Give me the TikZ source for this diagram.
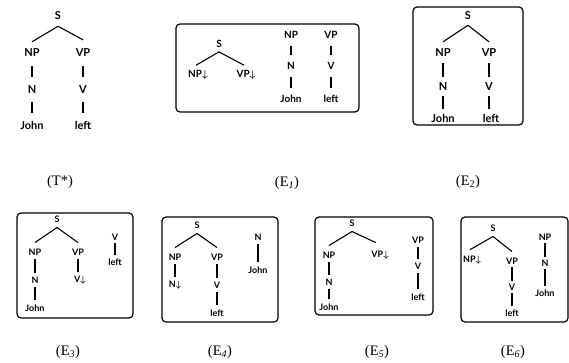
\documentclass[tikz,border=0pt]{standalone}
\usepackage{fontspec}
\newfontfamily\treefont{Lato}
\newfontfamily\labfont{Liberation Serif}
\newcommand{\dn}{\ensuremath{\boldsymbol{\downarrow}}}
\usepackage{amsmath}
\usepackage{bm}
\begin{document}
\begin{tikzpicture}[x=1pt,y=-1pt,
 every node/.style={inner sep=1pt},
 ta/.style={font=\treefont\bfseries\fontsize{11}{13}\selectfont},
 tb/.style={font=\treefont\bfseries\fontsize{10}{12}\selectfont},
 tc/.style={font=\treefont\bfseries\fontsize{9}{11}\selectfont},
 lab/.style={font=\labfont\fontsize{14.5}{16}\selectfont},
 br/.style={line width=1.1pt},
 bar/.style={line width=1.1pt, shorten <=#1, shorten >=#1},
 bar/.default=3pt,
 box/.style={draw, line width=1.2pt, rounded corners=4pt}]
\useasboundingbox (0,0) rectangle (569,363);

% ---------- T* ----------
\begin{scope}[every node/.append style={ta}]
\node (ts) at (58,16) {S};
\node (tnp) at (32,53) {NP};
\node (tvp) at (83,53) {VP};
\node (tn) at (32,90) {N};
\node (tv) at (83,90) {V};
\node (tj) at (32,125) {John};
\node (tl) at (83,125) {left};
\end{scope}
\draw[br] ([yshift=-5pt]ts.south) -- ([yshift=6pt]tnp.north);
\draw[br] ([yshift=-5pt]ts.south) -- ([yshift=8pt]tvp.north);
\draw[bar=8pt] (tnp) -- (tn);
\draw[bar=7pt] (tn) -- (tj);
\draw[bar=8pt] (tvp) -- (tv);
\draw[bar=7pt] (tv) -- (tl);
\node[lab] (labt) at (60,182) {(T*)};

% ---------- E1 ----------
\draw[box] (176,24) rectangle (359,112);
\begin{scope}[every node/.append style={tb}]
\node (as) at (219,44) {S};
\node (anp) at (198,75) {NP\dn};
\node (avp) at (246,75) {VP\dn};
\node (bnp) at (291,35) {NP};
\node (bn) at (291,66) {N};
\node (bj) at (291,99) {John};
\node (cvp) at (331,35) {VP};
\node (cv) at (331,66) {V};
\node (cl) at (331,99) {left};
\end{scope}
\draw[br] ([yshift=-3pt]as.south) -- ([xshift=-2pt,yshift=4pt]anp.north);
\draw[br] ([yshift=-3pt]as.south) -- ([xshift=-2pt,yshift=4pt]avp.north);
\draw[bar=6pt] (bnp) -- (bn);
\draw[bar=6pt] (bn) -- (bj);
\draw[bar=6pt] (cvp) -- (cv);
\draw[bar=6pt] (cv) -- (cl);
\node[lab] (lab1) at (287,183) {(E\textsubscript{\itshape 1})};

% ---------- E2 ----------
\draw[box] (413,7) rectangle (523,125);
\begin{scope}[every node/.append style={ta}]
\node (ds) at (468,16) {S};
\node (dnp) at (443,53) {NP};
\node (dvp) at (489,53) {VP};
\node (dn) at (443,87) {N};
\node (dv) at (489,87) {V};
\node (dj) at (443,118) {John};
\node (dl) at (491,118) {left};
\end{scope}
\draw[br] ([yshift=-4pt]ds.south) -- ([yshift=6pt]dnp.north);
\draw[br] ([yshift=-4pt]ds.south) -- ([yshift=6pt]dvp.north);
\draw[bar=5pt] (dnp) -- (dn);
\draw[bar=4pt] (dn) -- (dj);
\draw[bar=5pt] (dvp) -- (dv);
\draw[bar=4pt] (dv) -- (dl.north -| dv);
\node[lab] (lab2) at (468,182) {(E\textsubscript{2})};

% ---------- E3 ----------
\draw[box] (17,213) rectangle (133,318);
\begin{scope}[every node/.append style={tc}]
\node (es) at (57,219) {S};
\node (enp) at (35,252) {NP};
\node (evp) at (78,252) {VP};
\node (en) at (35,280) {N};
\node (ev) at (80,280) {V\dn};
\node (ej) at (35,308) {John};
\node (fv) at (115,237) {V};
\node (fl) at (115,262) {left};
\end{scope}
\draw[br] ([yshift=-4pt]es.south) -- ([yshift=5pt]enp.north);
\draw[br] ([yshift=-4pt]es.south) -- ([yshift=5pt]evp.north);
\draw[bar] (enp) -- (en);
\draw[bar] (en) -- (ej);
\draw[bar] (evp) -- (ev.north -| evp);
\draw[bar=2pt] (fv) -- (fl);
\node[lab] (lab3) at (68,352) {(E\textsubscript{\itshape 3})};

% ---------- E4 ----------
\draw[box] (162,217) rectangle (278,322);
\begin{scope}[every node/.append style={tc}]
\node (gs) at (197,225) {S};
\node (gnp) at (175,257) {NP};
\node (gvp) at (217,257) {VP};
\node (gn) at (175,285) {N\dn};
\node (gv) at (217,285) {V};
\node (gl) at (217,313) {left};
\node (hn) at (258,237) {N};
\node (hj) at (258,270) {John};
\end{scope}
\draw[br] ([yshift=-4pt]gs.south) -- ([yshift=5pt]gnp.north);
\draw[br] ([yshift=-4pt]gs.south) -- ([yshift=5pt]gvp.north);
\draw[bar] (gnp) -- (gn.north -| gnp);
\draw[bar] (gvp) -- (gv);
\draw[bar] (gv) -- (gl);
\draw[bar] (hn) -- (hj);
\node[lab] (lab4) at (220,352) {(E\textsubscript{\itshape 4})};

% ---------- E5 ----------
\draw[box] (315,217) rectangle (433,315);
\begin{scope}[every node/.append style={tc}]
\node (is) at (352,223) {S};
\node (inp) at (329,255) {NP};
\node (ivp) at (380,255) {VP\dn};
\node (in) at (329,282) {N};
\node (ij) at (329,307) {John};
\node (kvp) at (418,240) {VP};
\node (kv) at (418,266) {V};
\node (kl) at (418,297) {left};
\end{scope}
\draw[br] ([yshift=-4pt]is.south) -- ([yshift=5pt]inp.north);
\draw[br] ([yshift=-4pt]is.south) -- ([xshift=-4pt,yshift=7pt]ivp.north);
\draw[bar] (inp) -- (in);
\draw[bar] (in) -- (ij);
\draw[bar] (kvp) -- (kv);
\draw[bar] (kv) -- (kl);
\node[lab] (lab5) at (377,352) {(E\textsubscript{\itshape 5})};

% ---------- E6 ----------
\draw[box] (461,217) rectangle (568,322);
\begin{scope}[every node/.append style={tc}]
\node (ms) at (493,228) {S};
\node (mnp) at (472,260) {NP\dn};
\node (mvp) at (512,261) {VP};
\node (mv) at (512,287) {V};
\node (ml) at (512,313) {left};
\node (pnp) at (545,237) {NP};
\node (pn) at (545,263) {N};
\node (pj) at (545,293) {John};
\end{scope}
\draw[br] ([yshift=-4pt]ms.south) -- ([xshift=-2pt,yshift=5pt]mnp.north);
\draw[br] ([yshift=-4pt]ms.south) -- ([yshift=5pt]mvp.north);
\draw[bar=2pt] (mvp) -- (mv);
\draw[bar=2pt] (mv) -- (ml);
\draw[bar=2pt] (pnp) -- (pn);
\draw[bar=2pt] (pn) -- (pj);
\node[lab] (lab6) at (513,352) {(E\textsubscript{\itshape 6})};
\end{tikzpicture}
\end{document}
